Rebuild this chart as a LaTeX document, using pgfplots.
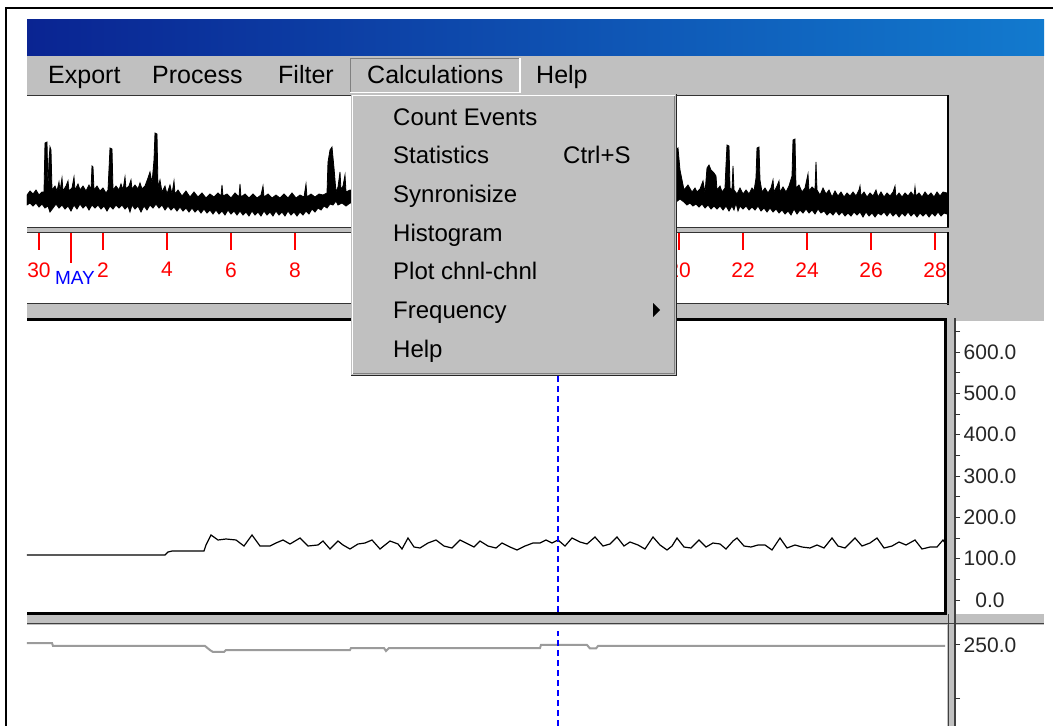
\documentclass[border=0pt]{standalone}
\usepackage{fontspec}
\setmainfont{Liberation Sans}
\usepackage{pgfplots}
\pgfplotsset{compat=1.18}
\definecolor{winbg}{RGB}{192,192,192}
\definecolor{wdark}{RGB}{128,128,128}
\definecolor{tbL}{RGB}{10,36,146}
\definecolor{tbR}{RGB}{18,122,206}
\definecolor{sig2}{RGB}{155,155,155}
\newcommand{\mfont}{\fontsize{24}{28}\selectfont}
\newcommand{\bfontm}{\fontsize{25}{28}\selectfont}
\newcommand{\tfont}{\fontsize{21}{24}\selectfont}
\begin{document}
\begin{tikzpicture}
\begin{scope}[x=1pt,y=-1pt]
\useasboundingbox (0,0) rectangle (1053,726);
\fill[white] (0,0) rectangle (1053,726);
\fill[winbg] (27,55) rectangle (1044,726);
\shade[left color=tbL, right color=tbR] (27,19) rectangle (1044,55);
\fill[white] (27,96) rectangle (947,227);
\fill[white] (27,233) rectangle (947,303);
\fill[white] (27,321) rectangle (945,612);
\fill[white] (956,321) rectangle (1044,614);
\fill[white] (27,625) rectangle (947,726);
\fill[white] (956,625) rectangle (1044,726);
\draw[black!80, line width=1.5] (27,95.5) -- (949,95.5);
\draw[black, line width=2] (948,95) -- (948,228);
\draw[black!80, line width=1.5] (27,227.5) -- (949,227.5);
\draw[black!80, line width=1.5] (27,232.5) -- (949,232.5);
\draw[black, line width=2] (948,232) -- (948,305);
\draw[black!80, line width=1.5] (27,303.5) -- (949,303.5);
\draw[black, line width=3] (27,319.5) -- (947,319.5);
\draw[black, line width=3] (945.5,318) -- (945.5,614.5);
\draw[black, line width=3] (27,613.5) -- (947,613.5);
\draw[black!75, line width=1.5] (27,623.5) -- (1044,623.5);
\draw[black!75, line width=1.5] (948.5,614) -- (948.5,726);
\draw[black!75, line width=1.5] (955,318) -- (955,726);
\draw[black, line width=2.5] (6,726) -- (6,8) -- (1053,8);
\end{scope}

% ---------- top overview signal (upper envelope, then lower envelope back) ----------
\begin{axis}[at={(27pt,-96pt)}, anchor=north west, scale only axis,
  width=920pt, height=131pt, xmin=27, xmax=947, ymin=96, ymax=227,
  y dir=reverse, hide axis]
\addplot[black, fill=black, line width=0.8pt, line join=miter] coordinates {
(27,195) (30,191) (33,194) (36,190) (39,195) (42,192) (44,192) (45,143) (47,142)
(48,188) (49,160) (50,147) (51,150) (52,190) (55,186) (57,191) (59,182) (60,191)
(62,178) (63,191) (66,186) (68,181) (69,191) (72,188) (74,177) (75,190) (78,184)
(80,190) (83,186) (86,191) (89,185) (91,190) (92,166) (93,167) (94,190) (97,186)
(100,191) (103,188) (106,193) (108,190) (110,148) (112,149) (113,190) (116,186)
(119,190) (121,184) (123,190) (125,177) (126,189) (129,186) (131,180) (132,189)
(135,185) (138,189) (140,183) (142,189) (145,186) (148,178) (150,172) (152,183)
(154,160) (155,133) (157,134) (158,188) (160,180) (162,192) (165,186) (167,194)
(170,185) (172,194) (174,181) (175,194) (178,190) (182,196) (186,191) (190,197)
(194,192) (198,197) (202,193) (206,198) (210,194) (214,197) (218,193) (221,196)
(222,185) (223,196) (227,194) (231,198) (235,193) (239,197) (240,184) (241,197)
(245,194) (249,198) (253,194) (257,198) (261,195) (263,186) (264,197) (268,194)
(272,198) (276,195) (280,198) (284,194) (288,198) (292,193) (296,198) (300,195)
(304,197) (306,184) (307,197) (311,194) (315,197) (319,194) (323,195) (327,193)
(328,162) (330,150) (332,147) (334,168) (336,192) (338,187) (340,172) (341,190)
(343,186) (345,175) (346,192) (350,190) (370,195) (400,188) (420,196) (450,190)
(480,195) (510,185) (540,196) (570,192) (600,195) (630,180) (650,194) (670,160)
(676,150) (678,148) (680,170) (682,180) (684,190) (688,185) (692,192) (695,188)
(697,192) (700,189) (703,181) (705,193) (707,168) (709,165) (711,170) (714,173)
(716,176) (717,190) (720,186) (722,192) (725,188) (726,165) (727,145) (729,146)
(730,188) (732,190) (733,166) (734,190) (737,194) (740,188) (743,194) (746,190)
(749,194) (752,188) (754,191) (756,178) (757,148) (759,147) (760,180) (762,192)
(765,188) (768,193) (771,188) (773,180) (774,192) (777,186) (779,181) (780,192)
(783,187) (786,192) (789,186) (792,176) (793,140) (795,139) (796,188) (799,185)
(802,192) (805,188) (808,174) (809,191) (812,187) (815,190) (816,162) (817,190)
(820,195) (823,188) (826,194) (829,190) (832,197) (835,191) (838,196) (841,192)
(844,197) (847,193) (850,196) (853,192) (856,196) (859,190) (860,186) (861,196)
(864,192) (867,197) (870,193) (873,196) (876,190) (878,197) (881,192) (884,197)
(887,193) (890,196) (893,192) (895,186) (896,197) (899,193) (902,197) (905,193)
(908,196) (911,192) (914,196) (915,187) (916,196) (919,193) (922,197) (925,192)
(928,196) (931,193) (934,197) (937,192) (940,196) (943,192) (947,193)
(947,214) (944,213) (941,216) (938,212) (935,216) (932,213) (929,217) (926,213)
(923,216) (920,213) (917,217) (914,213) (911,216) (908,212) (905,216) (902,213)
(899,217) (896,213) (893,216) (890,212) (887,216) (884,212) (881,215) (878,213)
(875,217) (872,213) (869,216) (866,212) (863,217) (860,212) (857,215) (854,212)
(851,216) (848,213) (845,216) (842,212) (839,215) (836,211) (833,215) (830,212)
(827,215) (824,211) (821,213) (818,209) (815,214) (812,210) (809,213) (806,209)
(803,213) (800,210) (797,214) (794,209) (791,215) (788,211) (785,214) (782,210)
(779,213) (776,209) (773,212) (770,208) (767,212) (764,208) (761,211) (758,206)
(755,210) (752,207) (749,210) (746,206) (743,209) (740,206) (738,211) (736,203)
(734,210) (732,206) (729,211) (726,206) (723,210) (720,206) (717,209) (714,206)
(711,209) (708,205) (705,208) (702,204) (699,207) (696,204) (693,206) (690,203)
(687,205) (684,202) (680,199) (676,202) (650,208) (600,210) (550,207) (500,209)
(450,206) (400,207) (350,203) (346,206) (342,203) (338,205) (336,201) (333,205)
(330,204) (327,208) (324,206) (321,210) (318,208) (315,212) (312,209) (309,214)
(306,211) (303,215) (300,212) (297,216) (294,212) (291,215) (288,211) (285,216)
(282,212) (279,215) (276,211) (273,216) (270,212) (267,215) (264,211) (261,216)
(258,212) (255,215) (252,211) (249,216) (246,212) (243,215) (240,211) (237,215)
(234,211) (231,214) (228,210) (225,215) (222,211) (219,214) (216,210) (213,214)
(210,210) (207,213) (204,209) (201,213) (198,209) (195,212) (192,208) (189,212)
(186,208) (183,211) (180,207) (177,211) (174,207) (171,210) (168,206) (165,210)
(162,205) (159,208) (156,204) (153,208) (150,205) (147,210) (144,206) (141,212)
(138,206) (135,209) (132,205) (130,212) (128,206) (125,209) (122,205) (119,208)
(116,205) (113,209) (110,206) (107,211) (104,206) (101,209) (98,205) (95,208)
(92,205) (89,210) (86,205) (83,208) (80,204) (77,209) (74,205) (71,211) (68,206)
(65,209) (62,205) (59,208) (56,204) (53,208) (50,212) (48,206) (45,208) (42,204)
(39,207) (36,203) (33,206) (30,203) (27,205)} -- cycle;
\end{axis}

% ---------- time axis ----------
\begin{axis}[at={(27pt,-233pt)}, anchor=north west, scale only axis,
  width=920pt, height=22pt, xmin=-0.375, xmax=28.375, ymin=0, ymax=1,
  axis line style={draw=none}, ytick=\empty,
  xtick={0,2,4,6,8,10,12,14,16,18,20,22,24,26,28},
  xticklabels={30,2,4,6,8,,,,,,20,22,24,26,28},
  xtick pos=right, xticklabel pos=left, tick align=inside,
  major tick length=17pt, tick style={red, line width=1.5pt},
  xticklabel style={text=red, font=\tfont, yshift=-4pt},
  extra x ticks={1}, extra x tick labels={MAY},
  extra x tick style={major tick length=30pt,
    xticklabel style={text=blue, font=\fontsize{19}{22}\selectfont, xshift=4pt, yshift=-9pt}}]
\addplot[draw=none] coordinates {(0,0)};
\end{axis}

% ---------- main channel ----------
\begin{axis}[at={(27pt,-321pt)}, anchor=north west, scale only axis,
  width=918pt, height=291pt, xmin=27, xmax=945, ymin=-29.03, ymax=675.0,
  hide axis]
\addplot[black, line width=1.2pt] coordinates {
(27,108.9) (165,108.9) (168,116.1) (172,118.5) (204,118.5) (206,133.1) (211,157.3)
(218,145.2) (226,147.6) (236,145.2) (244,130.6) (252,157.3) (260,130.6) (270,130.6)
(276,137.9) (283,145.2) (290,135.5) (300,150.0) (308,130.6) (318,133.1) (323,142.7)
(330,123.4) (338,142.7) (343,133.1) (350,123.4) (358,135.5) (365,137.9) (372,145.2)
(380,123.4) (390,142.7) (398,135.5) (402,123.4) (408,150.0) (414,128.2) (420,125.8)
(428,137.9) (436,145.2) (444,130.6) (452,125.8) (460,145.2) (468,135.5) (474,128.2)
(480,142.7) (488,130.6) (496,125.8) (502,137.9) (510,128.2) (517,121.0) (525,130.6)
(533,137.9) (540,137.9) (546,145.2) (552,137.9) (558,145.2) (565,130.6) (572,150.0)
(580,140.3) (587,135.5) (595,152.4) (603,130.6) (610,135.5) (617,152.4) (624,130.6)
(630,140.3) (638,133.1) (645,123.4) (653,152.4) (660,133.1) (667,121.0) (672,130.6)
(677,150.0) (684,128.2) (691,125.8) (699,145.2) (706,128.2) (713,137.9) (720,135.5)
(726,123.4) (733,142.7) (737,150.0) (744,130.6) (751,128.2) (758,133.1) (765,133.1)
(772,121.0) (780,150.0) (787,125.8) (795,133.1) (802,128.2) (810,125.8) (817,133.1)
(824,125.8) (832,150.0) (838,130.6) (845,125.8) (855,150.0) (862,130.6) (870,137.9)
(877,150.0) (884,125.8) (892,130.6) (899,140.3) (906,133.1) (915,145.2) (922,123.4)
(930,128.2) (937,128.2) (943,145.2) (945,137.9)};
\addplot[blue, line width=1.3pt, dash pattern=on 6pt off 4pt] coordinates {(558,-29.03) (558,675.0)};
\end{axis}

\begin{axis}[at={(951pt,-321pt)}, anchor=north west, scale only axis,
  width=4pt, height=291pt, xmin=0, xmax=1, ymin=-29.03, ymax=675.0,
  axis x line=none, axis y line*=right, y axis line style={draw=none},
  ytick={0,100,200,300,400,500,600}, minor ytick={50,150,250,350,450,550,650},
  tick align=outside, major tick length=5pt, minor tick length=5pt,
  tick style={black!80, line width=1pt},
  /pgf/number format/assume math mode=true,
  yticklabel style={/pgf/number format/fixed, /pgf/number format/fixed zerofill,
    /pgf/number format/precision=1, font=\tfont, text=black!85, anchor=center, xshift=30pt}]
\addplot[draw=none] coordinates {(0,0)};
\end{axis}

% ---------- lower channel ----------
\begin{axis}[at={(27pt,-625pt)}, anchor=north west, scale only axis,
  width=920pt, height=101pt, xmin=27, xmax=947, ymin=211.79, ymax=259.43,
  hide axis]
\addplot[sig2, line width=2pt] coordinates {
(27,250.94) (52,250.94) (53,249.53) (205,249.53) (210,247.6) (213,246.70) (224,246.70)
(226,247.64) (350,247.64) (351,248.58) (384,248.58) (386,247.17) (389,248.58)
(540,248.58) (541,250.0) (587,250.0) (590,248.35) (596,248.35) (598,249.53) (945,249.53)};
\addplot[blue, line width=1.3pt, dash pattern=on 6pt off 4pt] coordinates {(558,211.79) (558,256.5)};
\end{axis}

\begin{axis}[at={(951pt,-625pt)}, anchor=north west, scale only axis,
  width=4pt, height=101pt, xmin=0, xmax=1, ymin=211.79, ymax=259.43,
  axis x line=none, axis y line*=right, y axis line style={draw=none},
  ytick={250}, minor ytick={225},
  tick align=outside, major tick length=5pt, minor tick length=5pt,
  tick style={black!80, line width=1pt},
  /pgf/number format/assume math mode=true,
  yticklabel style={/pgf/number format/fixed, /pgf/number format/fixed zerofill,
    /pgf/number format/precision=1, font=\tfont, text=black!85, anchor=center, xshift=30pt}]
\addplot[draw=none] coordinates {(0,250)};
\end{axis}

% ---------- menus ----------
\begin{scope}[x=1pt,y=-1pt]
\node[anchor=base west, inner sep=0pt] at (48,83) {\bfontm Export};
\node[anchor=base west, inner sep=0pt] at (152,83) {\bfontm Process};
\node[anchor=base west, inner sep=0pt] at (278,83) {\bfontm Filter};
\node[anchor=base west, inner sep=0pt] at (367,83) {\bfontm Calculations};
\node[anchor=base west, inner sep=0pt] at (536,83) {\bfontm Help};
\draw[wdark, line width=1.5] (350.5,93) -- (350.5,58.5) -- (520,58.5);
\draw[white, line width=1.5] (520,58) -- (520,92.5) -- (350,92.5);
\fill[winbg] (351,94) rectangle (677,376);
\draw[white, line width=1.5] (352.5,374) -- (352.5,95.5) -- (675,95.5);
\draw[wdark, line width=1.5] (353,373.5) -- (674.5,373.5) -- (674.5,96);
\draw[black!85, line width=1.5] (351,375.5) -- (676.5,375.5) -- (676.5,94);
\node[anchor=base west, inner sep=0pt] at (393,125) {\mfont Count Events};
\node[anchor=base west, inner sep=0pt] at (393,163) {\mfont Statistics};
\node[anchor=base west, inner sep=0pt] at (563,163) {\mfont Ctrl+S};
\node[anchor=base west, inner sep=0pt] at (393,202) {\mfont Synronisize};
\node[anchor=base west, inner sep=0pt] at (393,241) {\mfont Histogram};
\node[anchor=base west, inner sep=0pt] at (393,279) {\mfont Plot chnl-chnl};
\node[anchor=base west, inner sep=0pt] at (393,318) {\mfont Frequency};
\node[anchor=base west, inner sep=0pt] at (393,357) {\mfont Help};
\fill[black] (653,303) -- (660,310) -- (653,317) -- cycle;
\end{scope}
\end{tikzpicture}
\end{document}
